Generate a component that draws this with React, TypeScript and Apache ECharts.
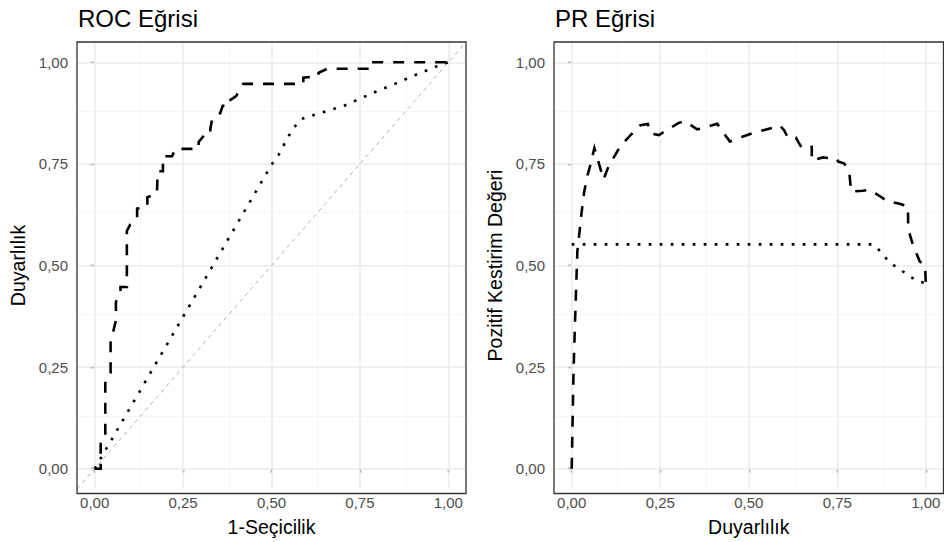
import React, { useEffect, useRef } from "react";
import * as echarts from "echarts";

// ---- data ----
const tickValues = [0, 0.25, 0.5, 0.75, 1];
const minorValues = [0.125, 0.375, 0.625, 0.875];

const rocTitle = "ROC Eğrisi";
const prTitle = "PR Eğrisi";
const rocXName = "1-Seçicilik";
const rocYName = "Duyarlılık";
const prXName = "Duyarlılık";
const prYName = "Pozitif Kestirim Değeri";

// ROC: model A (dashed)
const rocDashed: number[][] = [
  [0, 0], [0.017, 0], [0.017, 0.065], [0.03, 0.075], [0.03, 0.215], [0.045, 0.235],
  [0.045, 0.31], [0.06, 0.365], [0.06, 0.41], [0.073, 0.437], [0.073, 0.447],
  [0.091, 0.447], [0.091, 0.585], [0.1, 0.6], [0.12, 0.615], [0.12, 0.64],
  [0.149, 0.645], [0.149, 0.668], [0.176, 0.676], [0.178, 0.732], [0.193, 0.732],
  [0.193, 0.769], [0.219, 0.769], [0.228, 0.787], [0.294, 0.787], [0.294, 0.804],
  [0.313, 0.824], [0.327, 0.824], [0.327, 0.836], [0.332, 0.86], [0.355, 0.875],
  [0.362, 0.893], [0.38, 0.893], [0.38, 0.905], [0.4, 0.917], [0.42, 0.947],
  [0.59, 0.947], [0.59, 0.962], [0.633, 0.966], [0.633, 0.974], [0.657, 0.984],
  [0.78, 0.984], [0.78, 1], [1, 1],
];

// ROC: model B (dotted)
const rocDotted: number[][] = [
  [0, 0], [0.5, 0.748], [0.52, 0.772], [0.548, 0.818], [0.564, 0.84], [0.583, 0.86],
  [0.614, 0.869], [0.705, 0.893], [0.736, 0.905], [0.793, 0.927], [0.849, 0.947],
  [0.91, 0.97], [0.967, 0.99], [1, 1],
];

// reference diagonal
const rocDiagonal: number[][] = [[-0.05, -0.05], [1.05, 1.05]];

// PR: model A (dashed)
const prDashed: number[][] = [
  [0, 0], [0.005, 0.235], [0.0095, 0.365], [0.016, 0.536], [0.023, 0.59],
  [0.028, 0.631], [0.035, 0.68], [0.044, 0.72], [0.052, 0.745], [0.064, 0.789],
  [0.09, 0.712], [0.104, 0.744], [0.118, 0.765], [0.137, 0.793], [0.175, 0.829],
  [0.194, 0.845], [0.215, 0.848], [0.224, 0.825], [0.246, 0.821], [0.269, 0.833],
  [0.302, 0.851], [0.321, 0.855], [0.354, 0.835], [0.378, 0.84], [0.411, 0.849],
  [0.43, 0.825], [0.447, 0.805], [0.482, 0.817], [0.515, 0.827], [0.572, 0.84],
  [0.587, 0.845], [0.6, 0.833], [0.61, 0.815], [0.633, 0.815], [0.645, 0.796],
  [0.654, 0.787], [0.678, 0.792], [0.678, 0.758], [0.709, 0.766], [0.75, 0.762],
  [0.752, 0.756], [0.77, 0.751], [0.778, 0.738], [0.785, 0.72], [0.789, 0.682],
  [0.822, 0.684], [0.841, 0.686], [0.86, 0.676], [0.875, 0.668], [0.891, 0.658],
  [0.926, 0.652], [0.95, 0.645], [0.95, 0.59], [0.964, 0.55], [0.983, 0.51],
  [0.998, 0.5], [1, 0.455],
];

// PR: model B (dotted)
const prDotted: number[][] = [
  [0, 0.552], [0.85, 0.552], [0.865, 0.541], [0.884, 0.521], [0.907, 0.502],
  [0.931, 0.488], [0.957, 0.472], [0.978, 0.462], [1, 0.456],
];

// ---- styling ----
const FONT = "'Liberation Sans', Arial, Helvetica, sans-serif";
const fmt = (v: number) => v.toFixed(2).replace(".", ",");

const PANELS = [
  { left: 77, top: 42, width: 389, height: 451.5 },
  { left: 554, top: 42, width: 389.5, height: 451.5 },
];

function gridLineSeries(idx: number) {
  const major = { color: "#ebebeb", width: 1.5, type: "solid" as const };
  const minor = { color: "#f2f2f2", width: 0.8, type: "solid" as const };
  const data: any[] = [];
  minorValues.forEach((v) => {
    data.push({ xAxis: v, lineStyle: minor });
    data.push({ yAxis: v, lineStyle: minor });
  });
  tickValues.forEach((v) => {
    data.push({ xAxis: v, lineStyle: major });
    data.push({ yAxis: v, lineStyle: major });
  });
  return {
    type: "line",
    xAxisIndex: idx,
    yAxisIndex: idx,
    data: [],
    z: 1,
    silent: true,
    markLine: {
      silent: true,
      z: 1,
      symbol: ["none", "none"],
      label: { show: false },
      emphasis: { disabled: true },
      animation: false,
      data,
    },
  };
}

function xAxis(idx: number, name: string) {
  return {
    type: "value",
    gridIndex: idx,
    min: -0.05,
    max: 1.05,
    axisLine: { show: false },
    axisTick: {
      show: true,
      customValues: tickValues,
      length: 4,
      lineStyle: { color: "#333333", width: 1.3 },
    },
    axisLabel: {
      customValues: tickValues,
      formatter: fmt,
      color: "#4d4d4d",
      fontSize: 15,
      fontFamily: FONT,
      margin: 6,
    },
    splitLine: { show: false },
    name,
    nameLocation: "middle",
    nameGap: 28,
    nameTextStyle: { fontSize: 19.5, color: "#000", fontFamily: FONT },
  };
}

function yAxis(idx: number, name: string, gap: number) {
  return {
    type: "value",
    gridIndex: idx,
    min: -0.05,
    max: 1.05,
    axisLine: { show: false },
    axisTick: {
      show: true,
      customValues: tickValues,
      length: 4,
      lineStyle: { color: "#333333", width: 1.3 },
    },
    axisLabel: {
      customValues: tickValues,
      formatter: fmt,
      color: "#4d4d4d",
      fontSize: 15,
      fontFamily: FONT,
      margin: 9,
    },
    splitLine: { show: false },
    name,
    nameLocation: "middle",
    nameGap: gap,
    nameTextStyle: { fontSize: 19.5, color: "#000", fontFamily: FONT },
  };
}

function curve(idx: number, data: number[][], kind: "dashed" | "dotted" | "diag") {
  const style =
    kind === "dashed"
      ? { color: "#000", width: 2.6, type: [11, 10], cap: "butt", join: "miter" }
      : kind === "dotted"
      ? { color: "#000", width: 2.6, type: [2.7, 8.3], cap: "butt", join: "miter" }
      : { color: "#b0b0b0", width: 1, type: [4, 4], cap: "butt" };
  return {
    type: "line",
    xAxisIndex: idx,
    yAxisIndex: idx,
    data,
    showSymbol: false,
    symbol: "none",
    silent: true,
    z: kind === "diag" ? 2 : 3,
    lineStyle: style,
  };
}

export default function App() {
  const ref = useRef<HTMLDivElement>(null);
  useEffect(() => {
    document.body.style.margin = "0";
    if (!ref.current) return;
    const chart = echarts.init(ref.current, null, { renderer: "svg" });
    chart.setOption({
      animation: false,
      backgroundColor: "#ffffff",
      textStyle: { fontFamily: FONT },
      grid: PANELS.map((p) => ({ ...p, show: false, containLabel: false })),
      xAxis: [xAxis(0, rocXName), xAxis(1, prXName)],
      yAxis: [yAxis(0, rocYName, 49), yAxis(1, prYName, 49)],
      graphic: [
        { type: "text", left: 78, top: 6, style: { text: rocTitle, fontSize: 24, fontFamily: FONT, fill: "#000" } },
        { type: "text", left: 555, top: 6, style: { text: prTitle, fontSize: 24, fontFamily: FONT, fill: "#000" } },
        ...PANELS.map((p) => ({
          type: "rect",
          z: 100,
          silent: true,
          shape: { x: p.left, y: p.top, width: p.width, height: p.height },
          style: { fill: "none", stroke: "#333333", lineWidth: 1.3 },
        })),
      ],
      series: [
        gridLineSeries(0),
        gridLineSeries(1),
        curve(0, rocDiagonal, "diag"),
        curve(0, rocDotted, "dotted"),
        curve(0, rocDashed, "dashed"),
        curve(1, prDotted, "dotted"),
        curve(1, prDashed, "dashed"),
      ],
    });
    return () => chart.dispose();
  }, []);
  return <div ref={ref} style={{ width: 944, height: 542 }} />;
}
